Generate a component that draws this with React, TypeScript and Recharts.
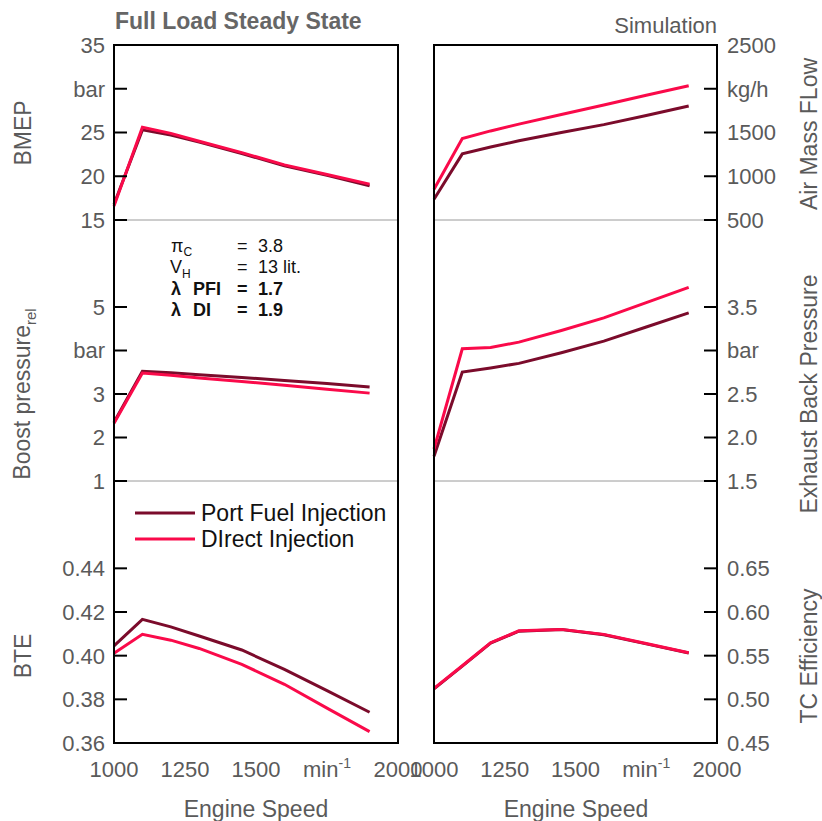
import React from 'react';
import { LineChart, Line, XAxis, YAxis, Legend } from 'recharts';

// engine speed, rpm
const speed = [1000, 1100, 1200, 1300, 1450, 1600, 1750, 1900];

const bmepPfi = [16.8, 25.3, 24.7, 23.9, 22.6, 21.2, 20.1, 18.9];
const bmepDi = [16.6, 25.6, 24.9, 24.0, 22.7, 21.3, 20.2, 19.1];

const boostPfi = [2.35, 3.52, 3.49, 3.44, 3.38, 3.31, 3.24, 3.16];
const boostDi = [2.33, 3.48, 3.43, 3.37, 3.29, 3.2, 3.11, 3.02];

const btePfi = [0.4045, 0.4166, 0.4132, 0.409, 0.4026, 0.3937, 0.384, 0.3741];
const bteDi = [0.4011, 0.4098, 0.4071, 0.4033, 0.396, 0.3869, 0.376, 0.3652];

const airPfi = [738, 1256, 1335, 1405, 1500, 1590, 1695, 1802];
const airDi = [852, 1432, 1518, 1596, 1705, 1815, 1925, 2034];

const exhPfi = [1.785, 2.753, 2.8, 2.852, 2.975, 3.108, 3.27, 3.432];
const exhDi = [1.868, 3.02, 3.035, 3.096, 3.23, 3.375, 3.55, 3.725];

const tcPfi = [0.512, 0.538, 0.5645, 0.578, 0.58, 0.574, 0.5635, 0.553];
const tcDi = [0.5126, 0.5384, 0.5648, 0.5785, 0.5801, 0.5744, 0.564, 0.5533];

const xTicks = [1000, 1250, 1500, 1750, 2000];
const bmepTicks = [15, 20, 25, 30, 35];
const boostTicks = [1, 2, 3, 4, 5];
const bteTicks = [0.36, 0.38, 0.4, 0.42, 0.44];
const airTicks = [500, 1000, 1500, 2000, 2500];
const exhTicks = [1.5, 2, 2.5, 3, 3.5];
const tcTicks = [0.45, 0.5, 0.55, 0.6, 0.65];

const series = [
  { key: 'pfi', name: 'Port Fuel Injection', color: '#7b0b2b' },
  { key: 'di', name: 'DIrect Injection', color: '#fa0a4a' },
];

const W = 822;
const H = 821;
const COLS = { left: [114, 398], right: [434, 717] };
const ROWS = [
  [45, 220],
  [220, 481],
  [481, 743],
];
const AX = 20; // space given to every axis
const TXT = '#5a5a5a';
const FONT = '"Liberation Sans", Arial, sans-serif';

const rows = (pfi: number[], di: number[]) =>
  speed.map((s, i) => ({ speed: s, pfi: pfi[i], di: di[i] }));

const frame = { stroke: '#000', strokeWidth: 2, strokeLinecap: 'square' };
const sep = { stroke: '#9a9a9a', strokeWidth: 1 };

const renderXTick = (p: any) => {
  const v = p.payload.value;
  return (
    <text x={p.x} y={p.y + 34} textAnchor="middle" fill={TXT} fontSize={22}>
      {v === 1750 ? (
        <>
          <tspan>min</tspan>
          <tspan dy={-9} fontSize={14}>-1</tspan>
        </>
      ) : (
        v
      )}
    </text>
  );
};

const yTick = (side: 'left' | 'right', fmt: (v: number) => string) => (p: any) => {
  const dir = side === 'left' ? 1 : -1;
  return (
    <g>
      <line x1={p.x} x2={p.x + dir * 13} y1={p.y} y2={p.y} stroke="#000" strokeWidth={2} />
      <text
        x={p.x - dir * (side === 'left' ? 9 : 10)}
        y={p.y}
        dy="0.36em"
        textAnchor={side === 'left' ? 'end' : 'start'}
        fill={TXT}
        fontSize={22}
      >
        {fmt(p.payload.value)}
      </text>
    </g>
  );
};

const LegendBox = () => (
  <svg width={262} height={56} style={{ fontFamily: FONT }}>
    {series.map((s, i) => (
      <g key={s.key}>
        <line x1={2} x2={62} y1={13 + i * 26} y2={13 + i * 26} stroke={s.color} strokeWidth={3} />
        <text x={68} y={21 + i * 26} fontSize={23} fill="#111">
          {s.name}
        </text>
      </g>
    ))}
  </svg>
);

interface PanelProps {
  data: { speed: number; pfi: number; di: number }[];
  col: 'left' | 'right';
  row: number;
  domain: [number, number];
  ticks: number[];
  fmt: (v: number) => string;
  legend?: boolean;
}

function Panel({ data, col, row, domain, ticks, fmt, legend }: PanelProps) {
  const [x0, x1] = COLS[col];
  const [y0, y1] = ROWS[row];
  const other = col === 'left' ? 'right' : 'left';
  return (
    <div style={{ position: 'absolute', left: 0, top: 0 }}>
      <LineChart
        width={W}
        height={H}
        data={data}
        margin={{ top: y0 - AX, bottom: H - y1 - AX, left: x0 - AX, right: W - x1 - AX }}
      >
        <XAxis
          xAxisId="b"
          dataKey="speed"
          type="number"
          domain={[1000, 2000]}
          ticks={xTicks}
          interval={0}
          orientation="bottom"
          height={AX}
          axisLine={row === 2 ? frame : sep}
          tickLine={false}
          tickSize={0}
          tickMargin={0}
          tick={row === 2 ? renderXTick : false}
        />
        <XAxis
          xAxisId="t"
          dataKey="speed"
          type="number"
          domain={[1000, 2000]}
          orientation="top"
          height={AX}
          axisLine={row === 0 ? frame : false}
          tickLine={false}
          tick={false}
        />
        <YAxis
          yAxisId="v"
          type="number"
          orientation={col}
          domain={domain}
          ticks={ticks}
          interval={0}
          width={AX}
          axisLine={frame}
          tickLine={false}
          tickSize={0}
          tickMargin={0}
          tick={yTick(col, fmt)}
        />
        <YAxis
          yAxisId="o"
          type="number"
          orientation={other}
          domain={domain}
          width={AX}
          axisLine={frame}
          tickLine={false}
          tick={false}
        />
        {legend && (
          <Legend
            layout="vertical"
            align="center"
            verticalAlign="middle"
            wrapperStyle={{ left: 133, top: 500, width: 262, height: 56 }}
            content={() => <LegendBox />}
          />
        )}
        {series.map((s) => (
          <Line
            key={s.key}
            xAxisId="b"
            yAxisId="v"
            dataKey={s.key}
            name={s.name}
            stroke={s.color}
            strokeWidth={3}
            dot={false}
            type="linear"
            isAnimationActive={false}
          />
        ))}
      </LineChart>
    </div>
  );
}

export default function App() {
  return (
    <div
      style={{
        position: 'absolute',
        left: 0,
        top: 0,
        width: W,
        height: H,
        background: '#fff',
        fontFamily: FONT,
      }}
    >
      <Panel data={rows(bmepPfi, bmepDi)} col="left" row={0} domain={[15, 35]} ticks={bmepTicks} fmt={(v) => (v === 30 ? 'bar' : String(v))} />
      <Panel data={rows(boostPfi, boostDi)} col="left" row={1} domain={[1, 7]} ticks={boostTicks} fmt={(v) => (v === 4 ? 'bar' : String(v))} />
      <Panel data={rows(btePfi, bteDi)} col="left" row={2} domain={[0.36, 0.48]} ticks={bteTicks} fmt={(v) => v.toFixed(2)} legend />
      <Panel data={rows(airPfi, airDi)} col="right" row={0} domain={[500, 2500]} ticks={airTicks} fmt={(v) => (v === 2000 ? 'kg/h' : String(v))} />
      <Panel data={rows(exhPfi, exhDi)} col="right" row={1} domain={[1.5, 4.5]} ticks={exhTicks} fmt={(v) => (v === 3 ? 'bar' : v.toFixed(1))} />
      <Panel data={rows(tcPfi, tcDi)} col="right" row={2} domain={[0.45, 0.75]} ticks={tcTicks} fmt={(v) => v.toFixed(2)} />

      <svg
        width={W}
        height={H}
        style={{ position: 'absolute', left: 0, top: 0, pointerEvents: 'none', fontFamily: FONT }}
      >
        <text x={115} y={29} fontSize={23} fontWeight="bold" fill="#666">
          Full Load Steady State
        </text>
        <text x={717} y={33} fontSize={22} fill={TXT} textAnchor="end">
          Simulation
        </text>

        {/* axis titles */}
        <g fill={TXT} fontSize={23} textAnchor="middle">
          <text transform="translate(31,133) rotate(-90)">BMEP</text>
          <text transform="translate(30,394) rotate(-90)">
            Boost pressure<tspan fontSize={15} dy={6}>rel</tspan>
          </text>
          <text transform="translate(31,656) rotate(-90)">BTE</text>
          <text transform="translate(817,134) rotate(-90)">Air Mass FLow</text>
          <text transform="translate(817,394) rotate(-90)">Exhaust Back Pressure</text>
          <text transform="translate(817,656) rotate(-90)">TC Efficiency</text>
          <text x={256} y={817}>Engine Speed</text>
          <text x={576} y={817}>Engine Speed</text>
        </g>

        {/* engine parameters */}
        <g fill="#111" fontSize={18}>
          <text x={171} y={252}>
            π<tspan fontSize={12} dy={4}>C</tspan>
          </text>
          <text x={237} y={252}>=</text>
          <text x={258} y={252}>3.8</text>
          <text x={170} y={273}>
            V<tspan fontSize={12} dy={5}>H</tspan>
          </text>
          <text x={237} y={273}>=</text>
          <text x={258} y={273}>13 lit.</text>
          <g fontWeight="bold">
            <text x={171} y={295}>λ</text>
            <text x={193} y={295}>PFI</text>
            <text x={237} y={295}>=</text>
            <text x={258} y={295}>1.7</text>
            <text x={171} y={316}>λ</text>
            <text x={193} y={316}>DI</text>
            <text x={237} y={316}>=</text>
            <text x={258} y={316}>1.9</text>
          </g>
        </g>
      </svg>
    </div>
  );
}
